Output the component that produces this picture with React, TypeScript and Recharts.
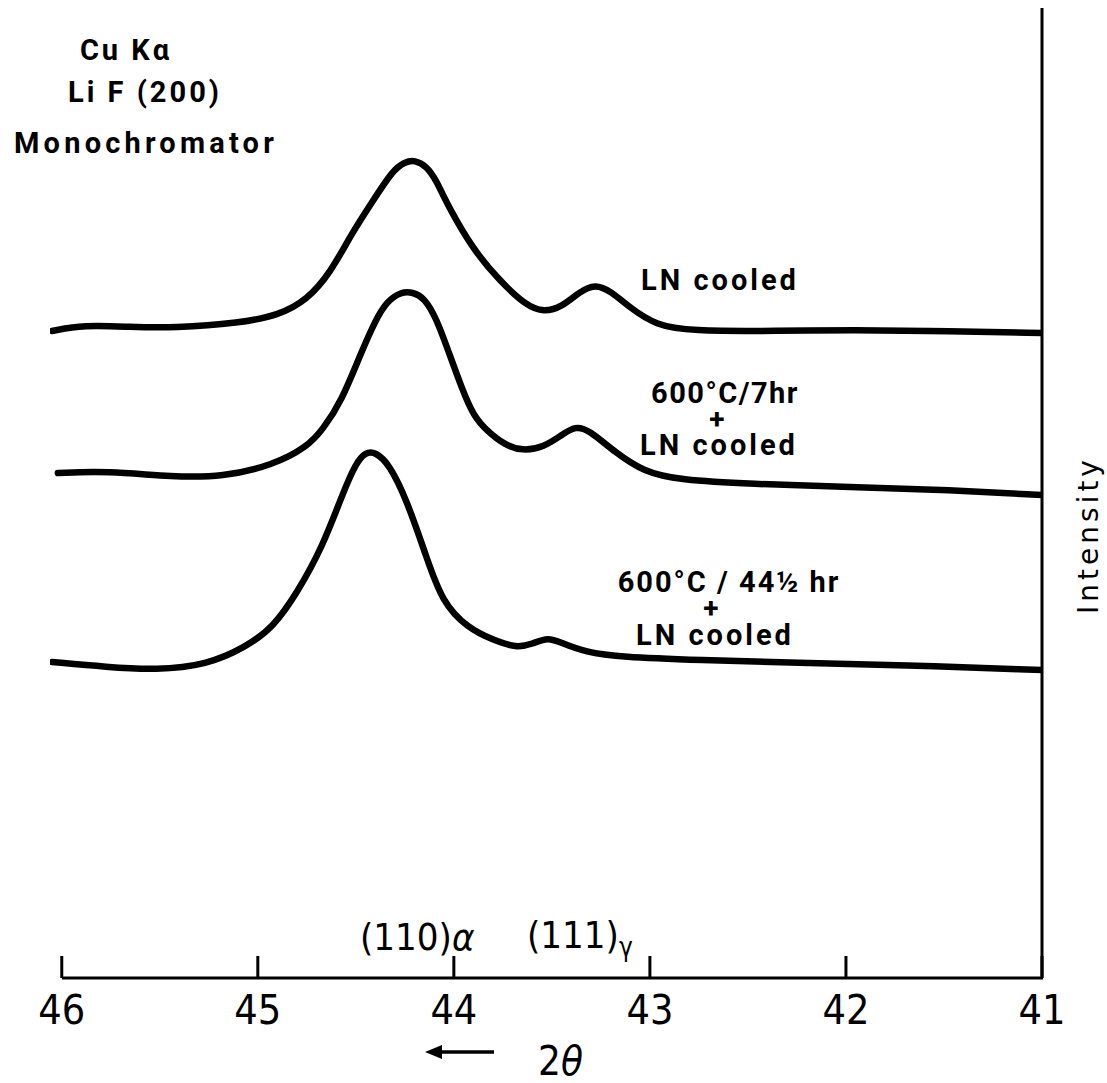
import {Line, LineChart, XAxis, YAxis} from 'recharts';

// 2θ (degrees) and relative intensity
const lnCooledTheta = [46.05, 45.89, 45.65, 45.43, 45.09, 44.89, 44.75, 44.63, 44.52, 44.41, 44.31, 44.25, 44.2, 44.14, 44.09, 44.03, 43.9, 43.77, 43.63, 43.54, 43.45, 43.36, 43.28, 43.2, 43.1, 42.97, 42.8, 42.34, 41.98, 41.47, 41.0];
const lnCooledInt = [647, 653, 651, 650, 655, 663, 678, 705, 745, 778, 808, 816, 818, 812, 798, 772, 728, 698, 672, 666, 671, 686, 694, 687, 670, 653, 647, 647, 648, 647, 645];

const anneal7Theta = [46.02, 45.77, 45.43, 45.18, 44.92, 44.75, 44.67, 44.57, 44.48, 44.4, 44.34, 44.27, 44.21, 44.15, 44.09, 44.03, 43.96, 43.9, 43.83, 43.74, 43.65, 43.54, 43.45, 43.38, 43.31, 43.18, 43.03, 42.85, 42.49, 41.98, 41.47, 41.0];
const anneal7Int = [505, 507, 501, 501, 513, 531, 548, 578, 622, 658, 677, 686, 686, 680, 660, 628, 590, 562, 547, 533, 527, 531, 543, 552, 548, 526, 506, 498, 494, 491, 488, 483];

const anneal44Theta = [46.05, 45.77, 45.52, 45.26, 45.06, 44.92, 44.8, 44.67, 44.57, 44.5, 44.45, 44.4, 44.33, 44.24, 44.14, 44.06, 43.93, 43.8, 43.68, 43.6, 43.52, 43.45, 43.33, 43.15, 42.75, 42.24, 41.72, 41.0];
const anneal44Int = [316, 311, 308, 313, 331, 351, 385, 431, 483, 515, 526, 526, 514, 478, 421, 376, 350, 338, 330, 334, 341, 335, 326, 321, 318, 315, 313, 308];

const thetaTicks = [46, 45, 44, 43, 42, 41];

const toRows = (theta: number[], intensity: number[]) =>
  theta.map((t, idx) => ({t, i: intensity[idx]}));

const lettering = {fontFamily: 'Roboto, sans-serif', fontWeight: 700, fontSize: 29, fill: '#000'};
const narrow = {fontFamily: 'Liberation Sans Narrow, DejaVu Sans Condensed, sans-serif', fill: '#000'};

function ThetaTick({x, y, payload}: any) {
  return (
    <g>
      <line x1={x} x2={x} y1={y} y2={y - 22} stroke="#000" strokeWidth={3} />
      <text x={x} y={y + 46} textAnchor="middle" fontSize={41} {...narrow}>
        {payload.value}
      </text>
    </g>
  );
}

function IntensityLabel({viewBox}: any) {
  const cx = viewBox.x + 46;
  const cy = viewBox.y + viewBox.height / 2 + 42;
  return (
    <text x={cx} y={cy} transform={`rotate(-90 ${cx} ${cy})`} textAnchor="middle" dominantBaseline="central"
      fontFamily="DejaVu Sans, sans-serif" fontSize={28} letterSpacing={4} fill="#000">
      Intensity
    </text>
  );
}

export default function App() {
  return (
    <div style={{position: 'absolute', left: 0, top: 0, background: '#fff'}}>
      <LineChart width={1107} height={1083} margin={{top: 8, right: 0, bottom: 0, left: 50}}>
        <XAxis type="number" dataKey="t" domain={[41, 46.06]} reversed ticks={thetaTicks} height={105}
          allowDataOverflow axisLine={false} tickLine={false} tickSize={0} tickMargin={0}
          tick={<ThetaTick />} interval={0} />
        <YAxis type="number" orientation="right" domain={[0, 970]} width={65} tick={false} tickLine={false}
          axisLine={{stroke: '#000', strokeWidth: 3}} label={<IntensityLabel />} />
        <Line data={toRows(lnCooledTheta, lnCooledInt)} dataKey="i" type="basis" stroke="#000"
          strokeWidth={6.5} strokeLinecap="round" dot={false} isAnimationActive={false} />
        <Line data={toRows(anneal7Theta, anneal7Int)} dataKey="i" type="basis" stroke="#000"
          strokeWidth={6.5} strokeLinecap="round" dot={false} isAnimationActive={false} />
        <Line data={toRows(anneal44Theta, anneal44Int)} dataKey="i" type="basis" stroke="#000"
          strokeWidth={6.5} strokeLinecap="round" dot={false} isAnimationActive={false} />

        {/* baseline of the 2θ scale runs from the 46 tick to the frame */}
        <line x1={62} x2={1043} y1={978} y2={978} stroke="#000" strokeWidth={3} />

        <text x={126} y={60} textAnchor="middle" letterSpacing={3} {...lettering}>Cu Kα</text>
        <text x={145} y={102} textAnchor="middle" letterSpacing={3} {...lettering}>Li F (200)</text>
        <text x={146} y={153} textAnchor="middle" letterSpacing={4.2} {...lettering}>Monochromator</text>

        <text x={720} y={290} textAnchor="middle" letterSpacing={3} {...lettering}>LN cooled</text>

        <text x={725} y={403} textAnchor="middle" letterSpacing={1.5} {...lettering}>600°C/7hr</text>
        <text x={717} y={429} textAnchor="middle" fontSize={28} fontWeight={700} fontFamily="Roboto, sans-serif">+</text>
        <text x={719} y={455} textAnchor="middle" letterSpacing={3} {...lettering}>LN cooled</text>

        <text x={729} y={592} textAnchor="middle" letterSpacing={2} {...lettering}>600°C / 44½ hr</text>
        <text x={711} y={618} textAnchor="middle" fontSize={28} fontWeight={700} fontFamily="Roboto, sans-serif">+</text>
        <text x={715} y={645} textAnchor="middle" letterSpacing={3} {...lettering}>LN cooled</text>

        <text x={360} y={950} fontSize={38} {...narrow}>(110)<tspan fontStyle="italic">α</tspan></text>
        <text x={527} y={948} fontSize={38} {...narrow}>(111)<tspan fontSize={26} dy={8}>γ</tspan></text>

        <line x1={438} x2={494} y1={1052} y2={1052} stroke="#000" strokeWidth={3.5} />
        <polygon points="425,1052 442,1045 442,1059" fill="#000" />
        <text x={538} y={1075} fontSize={40} {...narrow}>2<tspan fontStyle="italic">θ</tspan></text>
      </LineChart>
    </div>
  );
}
